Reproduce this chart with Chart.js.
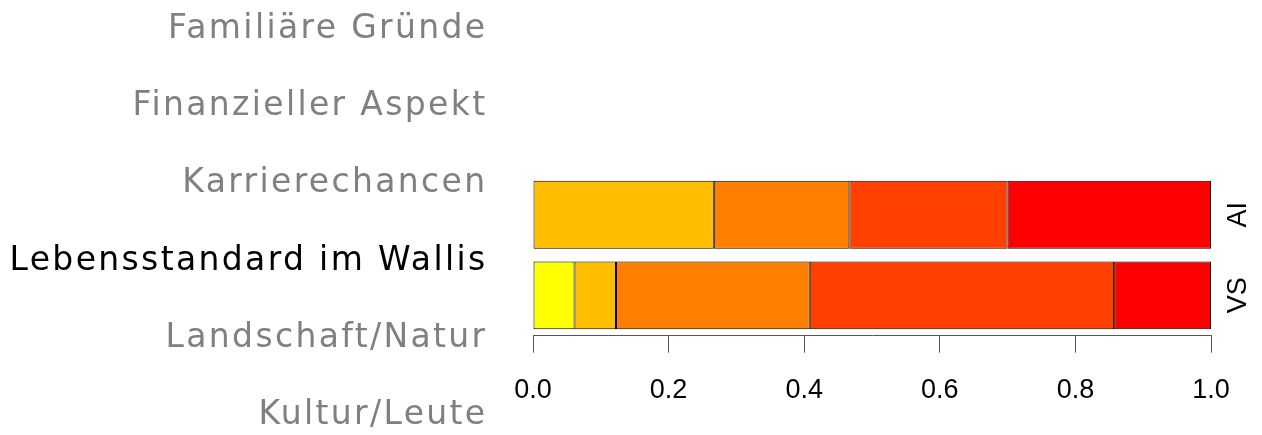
<!DOCTYPE html>
<html>
<head>
<meta charset="utf-8">
<script src="https://cdn.jsdelivr.net/npm/chart.js@4"></script>
<style>
  body { margin: 0; background: #fff; }
  #box { position: relative; width: 1262px; height: 435px; }
</style>
</head>
<body>
<div id="box"><canvas id="grafico" width="1262" height="435"></canvas></div>
<script>
// Gruende (links), der markierte ist schwarz
const gruende = ["Familiäre Gründe", "Finanzieller Aspekt", "Karrierechancen",
  "Lebensstandard im Wallis", "Landschaft/Natur", "Kultur/Leute"];
const gruendAktiv = "Lebensstandard im Wallis";

// Gruppen (Balken)
const gruppen = ["AI", "VS"];

// Anteile pro Stufe, AI = n 30, VS = n 49
const stufe1 = [0, 3 / 49];
const stufe2 = [8 / 30, 3 / 49];
const stufe3 = [6 / 30, 14 / 49];
const stufe4 = [7 / 30, 22 / 49];
const stufe5 = [9 / 30, 7 / 49];

const farben = ["#FFFF00", "#FFBF00", "#FF8000", "#FF4000", "#FF0000"];
const xTicks = [0, 0.2, 0.4, 0.6, 0.8, 1.0];

// Texte links und rechts zeichnen
const textPlugin = {
  id: "texte",
  afterDraw(chart) {
    const ctx = chart.ctx;
    ctx.save();
    ctx.font = "33px 'DejaVu Sans'";
    ctx.textAlign = "right";
    ctx.textBaseline = "alphabetic";
    if ("letterSpacing" in ctx) ctx.letterSpacing = "2.35px";
    gruende.forEach((g, i) => {
      ctx.fillStyle = g === gruendAktiv ? "#000000" : "#808080";
      ctx.fillText(g, 487.5, 38 + i * 77.2);
    });
    ctx.restore();

    const yScale = chart.scales.y;
    ctx.save();
    ctx.font = "27px 'Liberation Sans'";
    ctx.fillStyle = "#000";
    ctx.textAlign = "center";
    ctx.textBaseline = "middle";
    gruppen.forEach((g, i) => {
      const y = yScale.getPixelForTick(i);
      ctx.save();
      ctx.translate(chart.chartArea.right + 28, y);
      ctx.rotate(-Math.PI / 2);
      ctx.fillText(g, 0, 0);
      ctx.restore();
    });
    ctx.restore();
  }
};

const stufen = [stufe1, stufe2, stufe3, stufe4, stufe5];

const grafico = new Chart(document.getElementById("grafico").getContext("2d"), {
  type: "bar",
  data: {
    labels: gruppen,
    datasets: stufen.map((d, i) => ({
      label: String(i + 1),
      data: d,
      backgroundColor: farben[i],
      borderColor: "#000000",
      borderWidth: 1,
      borderSkipped: false,
      barPercentage: 0.92,
      categoryPercentage: 0.915
    }))
  },
  options: {
    responsive: false,
    animation: false,
    indexAxis: "y",
    layout: { padding: { left: 533, right: 51, top: 174.5, bottom: 7.4 } },
    plugins: { legend: { display: false }, tooltip: { enabled: false } },
    scales: {
      x: {
        stacked: true,
        min: 0,
        max: 1,
        afterBuildTicks: (s) => { s.ticks = xTicks.map(v => ({ value: v })); },
        grid: { display: true, drawOnChartArea: false, drawTicks: true, tickLength: 17, color: "#555555" },
        border: { display: true, color: "#555555", width: 1 },
        ticks: {
          padding: 24,
          color: "#000",
          font: { family: "'Liberation Sans', Arial", size: 27, lineHeight: 1.0 },
          maxRotation: 0,
          callback: (v) => Number(v).toFixed(1)
        }
      },
      y: {
        stacked: true,
        display: false
      }
    }
  },
  plugins: [textPlugin]
});
</script>
</body>
</html>
